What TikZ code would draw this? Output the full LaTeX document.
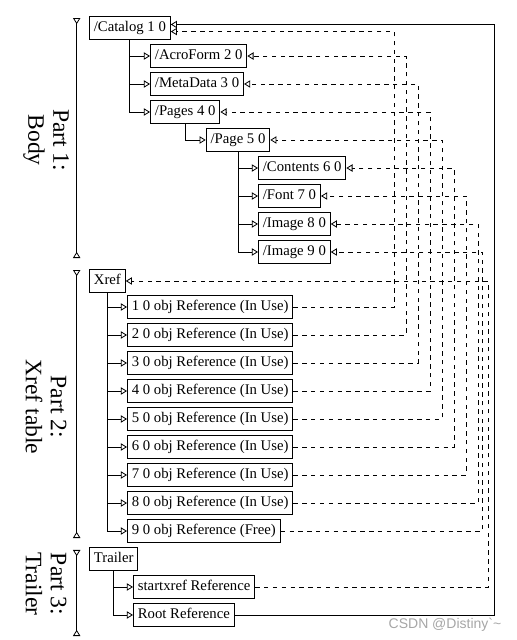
\documentclass[tikz,border=0pt]{standalone}
\usepackage{fontspec}
\setmainfont{Liberation Serif}
\newfontfamily\wmfont{Liberation Sans}
\usetikzlibrary{arrows.meta}

\tikzset{
  obj/.style={draw, line width=0.65pt, anchor=west, inner sep=3pt, text height=7pt, text depth=2pt},
  tri/.style={-{Triangle[open,length=4.2pt,width=5pt]}},
  ref/.style={tri, dashed},
  part/.style={{Triangle[open,reversed,length=4.2pt,width=5pt]}-{Triangle[open,reversed,length=4.2pt,width=5pt]}},
  partlabel/.style={rotate=-90, align=center, font=\fontsize{16}{17}\selectfont},
}

\begin{document}
\begin{tikzpicture}[>=Stealth, line width=0.55pt]
  \useasboundingbox (0,0) rectangle (12.338,15.274);
  % Part 1: body
  \node[obj] (catalog) at (2.124,14.605) {/Catalog 1 0};
  \node[obj] (acroform) at (3.580,13.937) {/AcroForm 2 0};
  \node[obj] (metadata) at (3.580,13.269) {/MetaData 3 0};
  \node[obj] (pages) at (3.580,12.601) {/Pages 4 0};
  \node[obj] (page) at (4.909,11.933) {/Page 5 0};
  \node[obj] (contents) at (6.157,11.264) {/Contents 6 0};
  \node[obj] (font) at (6.157,10.596) {/Font 7 0};
  \node[obj] (image8) at (6.157,9.928) {/Image 8 0};
  \node[obj] (image9) at (6.157,9.260) {/Image 9 0};
  % Part 2: xref table
  \node[obj] (xref) at (2.124,8.568) {Xref};
  \node[obj] (e1) at (3.031,7.947) {1 0 obj Reference (In Use)};
  \node[obj] (e2) at (3.031,7.279) {2 0 obj Reference (In Use)};
  \node[obj] (e3) at (3.031,6.611) {3 0 obj Reference (In Use)};
  \node[obj] (e4) at (3.031,5.942) {4 0 obj Reference (In Use)};
  \node[obj] (e5) at (3.031,5.274) {5 0 obj Reference (In Use)};
  \node[obj] (e6) at (3.031,4.606) {6 0 obj Reference (In Use)};
  \node[obj] (e7) at (3.031,3.938) {7 0 obj Reference (In Use)};
  \node[obj] (e8) at (3.031,3.269) {8 0 obj Reference (In Use)};
  \node[obj] (e9) at (3.031,2.601) {9 0 obj Reference (Free)};
  % Part 3: trailer
  \node[obj] (trailer) at (2.124,1.933) {Trailer};
  \node[obj] (startxref) at (3.174,1.265) {startxref Reference};
  \node[obj] (root) at (3.174,0.597) {Root Reference};

  % tree
  \draw[tri] (catalog.south) |- (acroform.west);
  \draw[tri] (catalog.south) |- (metadata.west);
  \draw[tri] (catalog.south) |- (pages.west);
  \draw[tri] (pages.south) |- (page.west);
  \draw[tri] (page.south) |- (contents.west);
  \draw[tri] (page.south) |- (font.west);
  \draw[tri] (page.south) |- (image8.west);
  \draw[tri] (page.south) |- (image9.west);
  \draw[tri] (xref.south) |- (e1.west);
  \draw[tri] (xref.south) |- (e2.west);
  \draw[tri] (xref.south) |- (e3.west);
  \draw[tri] (xref.south) |- (e4.west);
  \draw[tri] (xref.south) |- (e5.west);
  \draw[tri] (xref.south) |- (e6.west);
  \draw[tri] (xref.south) |- (e7.west);
  \draw[tri] (xref.south) |- (e8.west);
  \draw[tri] (xref.south) |- (e9.west);
  \draw[tri] (trailer.south) |- (startxref.west);
  \draw[tri] (trailer.south) |- (root.west);

  % references
  \coordinate (lane1) at (9.403,0);
  \coordinate (lane2) at (9.689,0);
  \coordinate (lane3) at (9.976,0);
  \coordinate (lane4) at (10.262,0);
  \coordinate (lane5) at (10.548,0);
  \coordinate (lane6) at (10.835,0);
  \coordinate (lane7) at (11.121,0);
  \coordinate (lane8) at (11.407,0);
  \coordinate (lane9) at (11.503,0);
  \coordinate (lanex) at (11.646,0);
  \coordinate (laner) at (11.789,0);
  \draw[ref] (e1.east) -- (e1.east -| lane1) |- ([yshift=-2.4pt]catalog.east);
  \draw[ref] (e2.east) -- (e2.east -| lane2) |- (acroform.east);
  \draw[ref] (e3.east) -- (e3.east -| lane3) |- (metadata.east);
  \draw[ref] (e4.east) -- (e4.east -| lane4) |- (pages.east);
  \draw[ref] (e5.east) -- (e5.east -| lane5) |- (page.east);
  \draw[ref] (e6.east) -- (e6.east -| lane6) |- (contents.east);
  \draw[ref] (e7.east) -- (e7.east -| lane7) |- (font.east);
  \draw[ref] (e8.east) -- (e8.east -| lane8) |- (image8.east);
  \draw[ref] (e9.east) -- (e9.east -| lane9) |- (image9.east);
  \draw[ref] (startxref.east) -- (startxref.east -| lanex) |- (xref.east);
  \draw[tri] (root.east) -- (root.east -| laner) |- ([yshift=2.4pt]catalog.east);

  % parts
  \coordinate (p1a) at (1.830,14.844);
  \coordinate (p1b) at (1.830,9.116);
  \coordinate (p2a) at (1.830,8.830);
  \coordinate (p2b) at (1.830,2.434);
  \coordinate (p3a) at (1.830,2.148);
  \coordinate (p3b) at (1.830,0.095);
  \draw[part] (p1a) -- (p1b);
  \draw[part] (p2a) -- (p2b);
  \draw[part] (p3a) -- (p3b);
  \node[partlabel] (body) at (1.10,11.93) {Part 1:\\Body};
  \node[partlabel] (table) at (1.10,5.561) {Part 2:\\Xref table};
  \node[partlabel] (tail) at (1.10,1.336) {Part 3:\\Trailer};

  \node[font=\wmfont\fontsize{9.5}{10}\selectfont, text=black!35] (mark) at (10.62,0.358) {CSDN @Distiny\textasciigrave\textasciitilde};
\end{tikzpicture}
\end{document}
